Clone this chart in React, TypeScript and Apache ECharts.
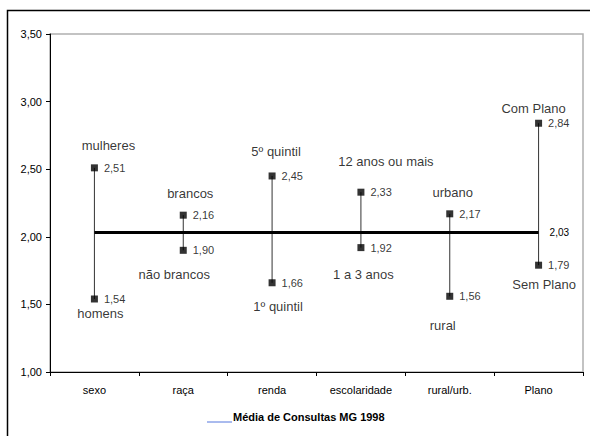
import React, { useEffect, useRef } from "react";
import * as echarts from "echarts";

const categories = ["sexo", "raça", "renda", "escolaridade", "rural/urb.", "Plano"];
const highValues = [2.51, 2.16, 2.45, 2.33, 2.17, 2.84];
const lowValues = [1.54, 1.9, 1.66, 1.92, 1.56, 1.79];
const highNames = ["mulheres", "brancos", "5º quintil", "12 anos ou mais", "urbano", "Com Plano"];
const lowNames = ["homens", "não brancos", "1º quintil", "1 a 3 anos", "rural", "Sem Plano"];
const meanValue = 2.03;
const legendText = "Média de Consultas MG 1998";

// label layout offsets (pixels) for the group names
const highOffsets = [[14, -22], [7, -22], [4, -24], [25, -31], [3, -21], [-5, -15]];
const lowOffsets = [[6, 15], [-9, 24], [6, 24], [2.5, 27], [-7, 29], [5.5, 19]];

const fmt = (v: number) => v.toFixed(2).replace(".", ",");
const FONT = "'Liberation Sans', Arial, sans-serif";

export default function App() {
  const ref = useRef<HTMLDivElement>(null);
  useEffect(() => {
    if (!ref.current) return;
    const chart = echarts.init(ref.current, undefined, { renderer: "svg" });
    const valueLabel = {
      show: true,
      position: "right" as const,
      distance: 6,
      color: "#000",
      fontSize: 11,
      fontFamily: FONT,
      formatter: (p: any) => fmt(p.value[1]),
    };
    const nameSeries = (vals: number[], names: string[], offs: number[][]) => ({
      type: "scatter",
      symbolSize: 0,
      silent: true,
      z: 5,
      data: vals.map((v, i) => ({
        value: [categories[i], v],
        name: names[i],
        label: {
          show: true,
          position: "inside",
          offset: offs[i],
          formatter: names[i],
          color: "#000",
          fontSize: 13,
          fontFamily: FONT,
        },
      })),
    });
    chart.setOption({
      animation: false,
      textStyle: { fontFamily: FONT },
      grid: {
        left: 50,
        top: 34,
        right: 7,
        bottom: 64,
        show: true,
        borderColor: "#b0b0b0",
        borderWidth: 1.5,
      },
      xAxis: {
        type: "category",
        data: categories,
        boundaryGap: true,
        axisLine: { lineStyle: { color: "#000", width: 1 } },
        axisTick: { show: true, length: 4, lineStyle: { color: "#000" } },
        axisLabel: { color: "#000", fontSize: 11, margin: 12, fontFamily: FONT },
        splitLine: { show: false },
      },
      yAxis: {
        type: "value",
        min: 1,
        max: 3.5,
        interval: 0.5,
        axisLine: { show: true, lineStyle: { color: "#000", width: 1 } },
        axisTick: { show: true, length: 4, lineStyle: { color: "#000" } },
        axisLabel: { color: "#000", fontSize: 11, margin: 8, fontFamily: FONT, formatter: (v: number) => fmt(v) },
        splitLine: { show: false },
      },
      series: [
        {
          type: "custom",
          z: 2,
          silent: true,
          data: categories.map((c, i) => [i, lowValues[i], highValues[i]]),
          renderItem: (params: any, api: any) => {
            const p1 = api.coord([api.value(0), api.value(1)]);
            const p2 = api.coord([api.value(0), api.value(2)]);
            return {
              type: "line",
              shape: { x1: p1[0], y1: p1[1], x2: p2[0], y2: p2[1] },
              style: { stroke: "#333", lineWidth: 1 },
            };
          },
        },
        {
          type: "line",
          data: [],
          z: 3,
          markLine: {
            silent: true,
            symbol: "none",
            lineStyle: { color: "#000", width: 3, type: "solid" },
            label: {
              show: true,
              position: "end",
              distance: 11,
              color: "#000",
              fontSize: 10,
              fontFamily: FONT,
              formatter: fmt(meanValue),
            },
            data: [
              [
                { coord: [categories[0], meanValue] },
                { coord: [categories[categories.length - 1], meanValue] },
              ],
            ],
          },
        },
        {
          type: "scatter",
          symbol: "rect",
          symbolSize: 7,
          z: 4,
          itemStyle: { color: "#000" },
          label: valueLabel,
          data: highValues.map((v, i) => [categories[i], v]),
        },
        {
          type: "scatter",
          symbol: "rect",
          symbolSize: 7,
          z: 4,
          itemStyle: { color: "#000" },
          label: valueLabel,
          data: lowValues.map((v, i) => [categories[i], v]),
        },
        nameSeries(highValues, highNames, highOffsets),
        nameSeries(lowValues, lowNames, lowOffsets),
      ],
      graphic: [
        {
          type: "polyline",
          silent: true,
          shape: { points: [[7.5, 460], [7.5, 10.5], [600, 10.5]] },
          style: { stroke: "#000", lineWidth: 1.5, fill: null },
        },
        {
          type: "line",
          silent: true,
          shape: { x1: 207, y1: 422, x2: 232, y2: 422 },
          style: { stroke: "#5577dd", lineWidth: 1 },
        },
        {
          type: "text",
          x: 233,
          y: 417,
          style: {
            text: legendText,
            fontSize: 11,
            fontWeight: "bold",
            fontFamily: FONT,
            fill: "#000",
            verticalAlign: "middle",
          },
        },
      ],
    });
    return () => chart.dispose();
  }, []);
  return (
    <div
      ref={ref}
      style={{ position: "absolute", left: 0, top: 0, width: 590, height: 436, background: "#fff" }}
    />
  );
}
